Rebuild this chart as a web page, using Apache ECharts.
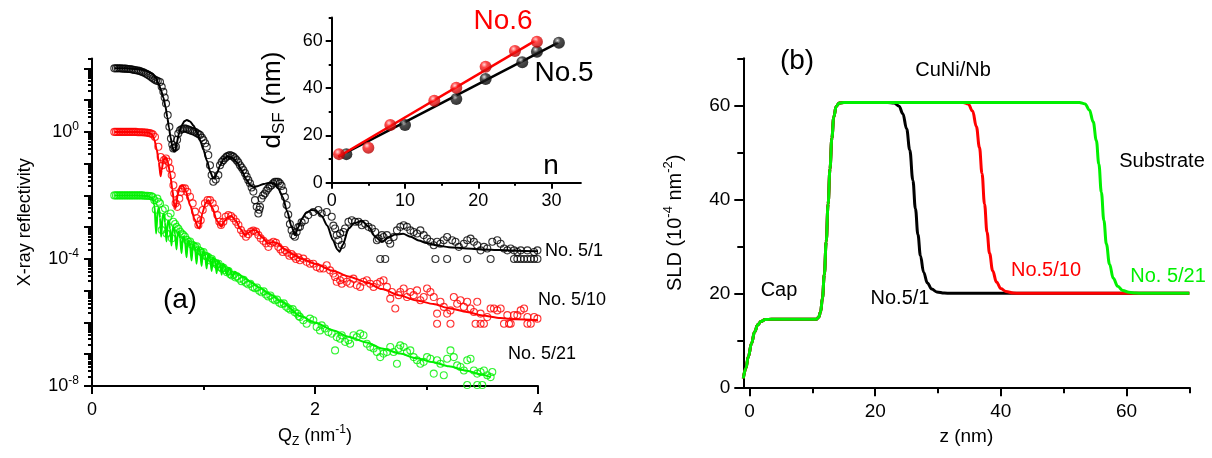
<!DOCTYPE html>
<html>
<head>
<meta charset="utf-8">
<script src="https://cdn.jsdelivr.net/npm/echarts@6/dist/echarts.min.js"></script>
<style>
html,body{margin:0;padding:0;background:#fff}
#chart{width:1212px;height:458px}
</style>
</head>
<body>
<div id="chart"></div>
<script>
// ---------- (a) X-ray reflectivity: [Qz (nm^-1), log10 R] ----------
const reflNo5_1 = [
[0.200,2.00],[0.215,2.00],[0.230,2.00],[0.245,2.00],[0.260,2.00],[0.275,1.99],[0.290,1.99],[0.305,1.99],[0.320,1.98],[0.335,1.98],
[0.350,1.97],[0.365,1.96],[0.380,1.95],[0.395,1.94],[0.410,1.93],[0.425,1.92],[0.440,1.90],[0.455,1.88],[0.470,1.86],[0.485,1.83],
[0.500,1.80],[0.515,1.77],[0.530,1.73],[0.545,1.69],[0.560,1.65],[0.575,1.62],[0.590,1.60],[0.610,1.57],[0.625,1.42],[0.640,1.26],
[0.652,1.08],[0.664,0.89],[0.679,0.53],[0.694,0.16],[0.708,-0.21],[0.720,-0.40],[0.729,-0.52],[0.741,-0.50],[0.753,-0.47],[0.763,-0.25],
[0.774,-0.05],[0.790,0.05],[0.804,0.08],[0.820,0.10],[0.834,0.11],[0.850,0.09],[0.865,0.07],[0.879,0.05],[0.895,0.03],[0.910,0.01],
[0.924,0.00],[0.940,-0.04],[0.955,-0.07],[0.969,-0.10],[0.985,-0.18],[0.999,-0.26],[1.015,-0.36],[1.029,-0.47],[1.043,-0.73],[1.058,-1.05],
[1.073,-1.36],[1.088,-1.57],[1.110,-1.50],[1.133,-1.36],[1.148,-1.05],[1.163,-0.95],[1.178,-0.89],[1.193,-0.83],[1.208,-0.78],[1.222,-0.75],
[1.237,-0.73],[1.252,-0.75],[1.267,-0.78],[1.282,-0.83],[1.297,-0.89],[1.312,-0.96],[1.327,-1.05],[1.342,-1.12],[1.357,-1.20],[1.372,-1.30],
[1.387,-1.41],[1.402,-1.52],[1.417,-1.62],[1.432,-1.75],[1.447,-1.88],[1.462,-2.15],[1.477,-2.36],[1.492,-2.57],[1.500,-2.45],[1.507,-2.36],
[1.520,-2.10],[1.535,-2.00],[1.550,-1.94],[1.565,-1.85],[1.580,-1.78],[1.595,-1.72],[1.610,-1.68],[1.625,-1.62],[1.640,-1.57],[1.655,-1.57],
[1.670,-1.57],[1.685,-1.62],[1.700,-1.70],[1.715,-1.85],[1.730,-2.05],[1.745,-2.30],[1.760,-2.60],[1.775,-2.90],[1.790,-3.10],[1.805,-3.25],
[1.820,-3.30],[1.835,-3.15],[1.850,-3.00],[1.865,-2.99],[1.880,-2.85],[1.910,-2.78],[1.940,-2.62],[1.985,-2.52],[2.030,-2.46],[2.060,-2.57],
[2.105,-2.52],[2.150,-2.67],[2.165,-2.95],[2.180,-3.04],[2.195,-3.25],[2.210,-3.41],[2.225,-3.20],[2.240,-3.56],[2.255,-3.15],[2.270,-3.04],
[2.300,-2.83],[2.330,-2.78],[2.360,-2.83],[2.390,-2.83],[2.420,-2.94],[2.450,-2.89],[2.480,-2.99],[2.510,-3.04],[2.540,-3.15],[2.555,-3.41],
[2.570,-3.36],[2.600,-3.25],[2.615,-3.31],[2.645,-3.25],[2.660,-3.41],[2.675,-3.52],[2.705,-3.31],[2.735,-3.10],[2.765,-2.99],[2.795,-2.94],
[2.825,-2.99],[2.855,-3.10],[2.885,-3.15],[2.915,-3.20],[2.945,-3.10],[2.975,-3.25],[3.005,-3.36],[3.035,-3.46],[3.065,-3.57],[3.095,-3.46],
[3.125,-3.52],[3.155,-3.41],[3.185,-3.31],[3.230,-3.41],[3.260,-3.46],[3.290,-3.62],[3.335,-3.52],[3.365,-3.41],[3.395,-3.36],[3.425,-3.46],
[3.455,-3.57],[3.485,-3.73],[3.515,-3.62],[3.545,-3.67],[3.590,-3.46],[3.635,-3.41],[3.665,-3.52],[3.695,-3.67],[3.725,-3.73],[3.755,-3.67],
[3.785,-3.73],[3.815,-3.78],[3.845,-3.73],[3.905,-3.73],[3.965,-3.78],[3.995,-3.73],
[2.585,-4.00],[2.630,-4.00],[3.080,-4.00],[3.185,-4.00],[3.365,-4.00],[3.575,-4.00],[3.785,-4.00],[3.815,-4.00],[3.845,-4.00],[3.875,-4.00],
[3.905,-4.00],[3.935,-4.00],[3.965,-4.00],[3.995,-4.00]
];
const fitNo5_1 = [
[0.20,2.00],[0.30,2.00],[0.40,1.98],[0.46,1.95],[0.50,1.91],[0.54,1.84],[0.57,1.72],[0.60,1.50],[0.62,1.30],[0.64,1.08],
[0.66,0.78],[0.675,0.47],[0.69,0.14],[0.705,-0.18],[0.72,-0.45],[0.735,-0.62],[0.745,-0.62],[0.76,-0.35],[0.78,-0.05],[0.80,0.18],
[0.83,0.34],[0.85,0.37],[0.88,0.33],[0.91,0.20],[0.94,0.00],[0.97,-0.26],[1.00,-0.57],[1.03,-0.90],[1.06,-1.25],[1.085,-1.45],
[1.10,-1.47],[1.12,-1.30],[1.15,-1.05],[1.18,-0.85],[1.22,-0.77],[1.26,-0.82],[1.30,-0.96],[1.34,-1.20],[1.38,-1.48],[1.42,-1.68],
[1.45,-1.74],[1.49,-1.70],[1.54,-1.64],[1.59,-1.60],[1.63,-1.62],[1.67,-1.78],[1.71,-2.05],[1.75,-2.50],[1.79,-2.98],[1.82,-3.25],
[1.85,-3.00],[1.88,-2.75],[1.92,-2.55],[1.97,-2.46],[2.01,-2.48],[2.06,-2.65],[2.11,-2.95],[2.16,-3.40],[2.20,-3.70],[2.22,-3.77],
[2.25,-3.55],[2.30,-3.05],[2.35,-2.88],[2.42,-2.80],[2.48,-2.98],[2.54,-3.30],[2.60,-3.47],[2.66,-3.32],[2.72,-3.23],[2.79,-3.21],
[2.86,-3.30],[2.93,-3.42],[3.00,-3.50],[3.10,-3.58],[3.20,-3.63],[3.36,-3.67],[3.50,-3.70],[3.66,-3.72],[3.80,-3.74],[4.00,-3.76]
];
const reflNo5_10 = [
[0.200,0.00],[0.215,0.00],[0.230,0.00],[0.245,0.00],[0.260,0.00],[0.275,0.00],[0.290,0.00],[0.305,0.00],[0.320,0.00],[0.335,0.00],
[0.350,0.00],[0.365,0.00],[0.380,0.00],[0.395,0.00],[0.410,-0.01],[0.425,-0.01],[0.440,-0.01],[0.455,-0.01],[0.470,-0.02],[0.485,-0.02],
[0.500,-0.03],[0.515,-0.04],[0.530,-0.05],[0.545,-0.08],[0.565,-0.16],[0.595,-0.47],[0.616,-0.79],[0.634,-1.05],[0.646,-0.89],[0.664,-0.84],
[0.685,-0.94],[0.700,-1.15],[0.715,-1.36],[0.730,-1.68],[0.738,-1.94],[0.750,-2.25],[0.765,-2.36],[0.783,-2.10],[0.795,-1.89],[0.813,-1.78],
[0.834,-1.78],[0.855,-1.89],[0.879,-2.04],[0.903,-2.25],[0.924,-2.51],[0.939,-2.72],[0.954,-2.93],[0.975,-2.78],[0.993,-2.46],[1.013,-2.25],
[1.037,-2.15],[1.058,-2.15],[1.082,-2.25],[1.103,-2.41],[1.124,-2.62],[1.142,-2.83],[1.157,-2.93],[1.178,-2.83],[1.199,-2.67],[1.223,-2.62],
[1.247,-2.65],[1.268,-2.72],[1.292,-2.83],[1.313,-2.93],[1.336,-3.09],[1.357,-3.20],[1.381,-3.30],[1.402,-3.22],[1.426,-3.14],[1.447,-3.11],
[1.471,-3.14],[1.492,-3.25],[1.513,-3.35],[1.537,-3.43],[1.561,-3.51],[1.582,-3.62],[1.603,-3.51],[1.627,-3.46],[1.650,-3.49],[1.671,-3.62],
[1.690,-3.70],[1.710,-3.78],[1.730,-3.72],[1.750,-3.80],[1.770,-3.90],[1.790,-3.85],[1.810,-3.92],[1.830,-4.00],[1.850,-3.95],[1.865,-4.04],
[1.895,-3.99],[1.925,-4.09],[1.955,-4.15],[1.985,-4.15],[2.015,-4.25],[2.045,-4.30],[2.075,-4.30],[2.105,-4.20],[2.135,-4.36],[2.165,-4.46],
[2.180,-4.57],[2.195,-4.72],[2.225,-4.67],[2.240,-4.78],[2.255,-4.62],[2.285,-4.72],[2.315,-4.78],[2.345,-4.62],[2.375,-4.83],[2.405,-4.88],
[2.435,-4.72],[2.465,-4.67],[2.495,-4.78],[2.525,-4.88],[2.555,-4.78],[2.585,-4.72],[2.615,-4.67],[2.645,-4.88],[2.675,-5.25],[2.690,-5.04],
[2.720,-5.56],[2.750,-5.14],[2.765,-5.04],[2.795,-4.93],[2.825,-5.20],[2.855,-5.04],[2.885,-5.14],[2.915,-4.99],[2.945,-5.30],[2.975,-5.20],
[3.005,-4.93],[3.035,-5.04],[3.065,-5.20],[3.095,-5.72],[3.095,-6.04],[3.125,-5.35],[3.155,-5.51],[3.185,-5.72],[3.215,-5.62],[3.215,-6.04],
[3.245,-5.20],[3.275,-5.41],[3.305,-5.30],[3.335,-5.51],[3.365,-5.35],[3.395,-5.56],[3.425,-5.67],[3.440,-6.04],[3.455,-5.35],[3.485,-5.72],
[3.485,-6.04],[3.515,-6.04],[3.545,-5.83],[3.575,-5.56],[3.605,-5.56],[3.635,-5.62],[3.665,-5.56],[3.695,-6.04],[3.725,-5.77],[3.740,-6.04],
[3.755,-6.04],[3.785,-5.77],[3.815,-5.77],[3.845,-5.62],[3.875,-5.56],[3.905,-5.83],[3.905,-6.04],[3.935,-6.04],[3.965,-5.83],[3.995,-5.88]
];
const fitNo5_10 = [
[0.20,0.00],[0.40,0.00],[0.50,-0.02],[0.54,-0.08],[0.56,-0.25],[0.58,-0.55],[0.60,-0.95],[0.615,-1.40],[0.625,-1.20],[0.64,-0.89],
[0.66,-0.80],[0.68,-0.95],[0.70,-1.30],[0.72,-1.80],[0.74,-2.35],[0.75,-2.40],[0.77,-1.95],[0.79,-1.72],[0.81,-1.68],[0.84,-1.85],
[0.88,-2.30],[0.92,-2.75],[0.95,-3.00],[0.965,-3.04],[0.99,-2.55],[1.02,-2.22],[1.045,-2.15],[1.08,-2.40],[1.12,-2.80],[1.16,-2.99],
[1.19,-2.80],[1.22,-2.68],[1.25,-2.65],[1.29,-2.80],[1.33,-3.05],[1.37,-3.25],[1.40,-3.18],[1.44,-3.09],[1.47,-3.10],[1.52,-3.30],
[1.58,-3.51],[1.62,-3.47],[1.66,-3.50],[1.72,-3.68],[1.80,-3.85],[1.87,-3.99],[2.00,-4.15],[2.165,-4.38],[2.30,-4.55],[2.464,-4.74],
[2.60,-4.95],[2.764,-5.15],[2.90,-5.30],[3.063,-5.42],[3.20,-5.55],[3.363,-5.67],[3.50,-5.78],[3.662,-5.86],[3.80,-5.90],[4.00,-5.93]
];
const reflNo5_21 = [
[0.200,-2.00],[0.215,-2.00],[0.230,-2.00],[0.245,-2.00],[0.260,-2.00],[0.275,-2.00],[0.290,-2.00],[0.305,-2.00],[0.320,-2.00],[0.335,-2.00],
[0.350,-2.00],[0.365,-2.00],[0.380,-2.00],[0.395,-2.00],[0.410,-2.00],[0.425,-2.00],[0.440,-2.00],[0.455,-2.00],[0.470,-2.01],[0.485,-2.01],
[0.500,-2.01],[0.515,-2.02],[0.530,-2.02],[0.545,-2.05],[0.560,-2.15],[0.572,-2.45],[0.586,-2.10],[0.598,-2.20],[0.610,-2.25],[0.625,-3.09],
[0.634,-2.46],[0.655,-2.41],[0.668,-3.20],[0.685,-2.67],[0.705,-2.57],[0.716,-3.35],[0.729,-2.83],[0.745,-2.90],[0.759,-2.99],[0.775,-3.05],
[0.789,-3.14],[0.805,-3.20],[0.820,-3.25],[0.834,-3.30],[0.850,-3.40],[0.864,-3.46],[0.880,-3.45],[0.895,-3.55],[0.910,-3.58],[0.925,-3.62],
[0.940,-3.60],[0.955,-3.72],[0.970,-3.75],[0.985,-3.80],[1.000,-3.78],[1.015,-3.90],[1.030,-3.92],[1.045,-3.95],[1.060,-4.05],[1.075,-4.00],
[1.090,-4.10],[1.105,-4.12],[1.120,-4.18],[1.135,-4.15],[1.150,-4.25],[1.165,-4.30],[1.180,-4.28],[1.195,-4.35],[1.210,-4.42],[1.225,-4.38],
[1.240,-4.48],[1.255,-4.52],[1.270,-4.50],[1.285,-4.58],[1.300,-4.55],[1.320,-4.62],[1.340,-4.70],[1.360,-4.66],[1.380,-4.75],[1.400,-4.80],
[1.420,-4.78],[1.440,-4.88],[1.460,-4.92],[1.480,-4.90],[1.500,-5.00],[1.520,-5.05],[1.540,-5.02],[1.560,-5.12],[1.580,-5.18],[1.600,-5.15],
[1.620,-5.25],[1.640,-5.30],[1.660,-5.28],[1.680,-5.38],[1.700,-5.42],[1.720,-5.40],[1.740,-5.50],[1.760,-5.55],[1.780,-5.60],[1.800,-5.58],
[1.820,-5.68],[1.840,-5.72],[1.855,-5.80],[1.865,-5.83],[1.895,-5.93],[1.925,-6.04],[1.955,-5.88],[1.985,-5.93],[2.015,-6.14],[2.045,-6.25],
[2.060,-6.09],[2.090,-6.19],[2.120,-6.30],[2.150,-6.35],[2.180,-6.88],[2.195,-6.46],[2.225,-6.51],[2.240,-6.40],[2.270,-6.61],[2.300,-6.56],
[2.315,-6.67],[2.345,-6.40],[2.375,-6.46],[2.405,-6.35],[2.435,-6.40],[2.465,-6.67],[2.495,-6.77],[2.525,-6.82],[2.555,-6.93],[2.585,-7.09],
[2.615,-6.98],[2.645,-6.93],[2.675,-6.77],[2.705,-6.93],[2.735,-7.30],[2.750,-6.82],[2.765,-6.72],[2.795,-6.77],[2.825,-6.93],[2.855,-6.88],
[2.885,-7.09],[2.915,-7.19],[2.945,-7.30],[2.975,-7.24],[3.005,-7.09],[3.035,-7.14],[3.065,-7.61],[3.095,-7.19],[3.125,-7.30],[3.155,-7.66],
[3.185,-7.14],[3.215,-6.88],[3.245,-7.09],[3.275,-7.35],[3.305,-7.40],[3.335,-7.51],[3.365,-7.19],[3.395,-7.14],[3.425,-7.51],[3.455,-7.61],
[3.485,-7.56],[3.515,-7.51],[3.545,-7.66],[3.575,-7.72],[3.590,-7.56],[3.365,-7.97],[3.455,-7.97],[3.500,-7.97]
];
const fitNo5_21 = [
[0.20,-2.00],[0.40,-2.00],[0.50,-2.02],[0.54,-2.08],[0.56,-2.30],[0.575,-3.20],[0.59,-2.45],[0.60,-2.40],[0.61,-2.70],[0.62,-3.30],
[0.635,-2.60],[0.645,-2.58],[0.655,-2.85],[0.668,-3.45],[0.68,-2.80],[0.69,-2.80],[0.70,-3.05],[0.713,-3.58],[0.725,-3.00],[0.735,-3.00],
[0.745,-3.22],[0.758,-3.70],[0.77,-3.15],[0.78,-3.15],[0.79,-3.35],[0.803,-3.82],[0.815,-3.30],[0.825,-3.30],[0.835,-3.48],[0.848,-3.95],
[0.86,-3.42],[0.87,-3.42],[0.88,-3.60],[0.893,-4.05],[0.905,-3.55],[0.915,-3.55],[0.925,-3.70],[0.938,-4.15],[0.95,-3.65],[0.96,-3.66],
[0.97,-3.80],[0.983,-4.22],[0.995,-3.75],[1.005,-3.77],[1.015,-3.90],[1.028,-4.30],[1.04,-3.85],[1.05,-3.87],[1.06,-4.00],[1.073,-4.38],
[1.085,-3.95],[1.095,-3.97],[1.105,-4.08],[1.118,-4.45],[1.13,-4.05],[1.14,-4.08],[1.15,-4.18],[1.163,-4.50],[1.175,-4.15],[1.19,-4.20],
[1.21,-4.50],[1.225,-4.28],[1.24,-4.32],[1.26,-4.55],[1.28,-4.40],[1.30,-4.45],[1.35,-4.55],[1.42,-4.72],[1.50,-4.90],[1.60,-5.12],
[1.70,-5.35],[1.87,-5.80],[2.00,-6.00],[2.165,-6.25],[2.30,-6.45],[2.464,-6.63],[2.60,-6.82],[2.764,-6.98],[2.90,-7.12],[3.063,-7.25],
[3.20,-7.38],[3.363,-7.52],[3.48,-7.63],[3.575,-7.72]
];

// ---------- inset: superlattice thickness d_SF vs number of bilayers n ----------
const nNo5 = [2, 10, 17, 21, 26, 28, 31];
const dNo5 = [12.1, 24.4, 35.4, 43.9, 51.0, 55.5, 59.3];
const nNo6 = [1, 5, 8, 14, 17, 21, 25, 28];
const dNo6 = [12.1, 14.8, 24.4, 34.7, 40.2, 49.1, 55.8, 59.7];
const lineNo5 = [[0.9, 11.0], [30.9, 59.3]];
const lineNo6 = [[0.9, 11.0], [27.9, 60.4]];

// ---------- (b) SLD depth profiles: [z (nm), SLD (1e-4 nm^-2)] ----------
const sldNo5_1 = [
[-1,1.9],[-0.6,4],[-0.2,6.5],[0.3,9.3],[0.8,11.8],[1.3,13.3],[1.8,14.0],[2.5,14.4],[3.5,14.5],[10.6,14.5],
[11,14.9],[11.3,16],[11.6,19],[11.9,24],[12.2,31],[12.5,39],[12.8,46.5],[13.1,53],[13.4,57.5],[13.8,59.8],
[14.3,60.5],[15,60.6],[22,60.6],[23,60.5],[23.8,59.8],[24.4,58.2],[25,55],[25.5,50.5],[26,44],[26.4,38],
[26.8,32.5],[27.2,28],[27.7,24.5],[28.3,22.2],[29,20.9],[29.8,20.3],[31,20.05],[32,20],[70,20]
];
const sldNo5_10 = [
[-1,1.9],[-0.6,4],[-0.2,6.5],[0.3,9.3],[0.8,11.8],[1.3,13.3],[1.8,14.0],[2.5,14.4],[3.5,14.5],[10.6,14.5],
[11,14.9],[11.3,16],[11.6,19],[11.9,24],[12.2,31],[12.5,39],[12.8,46.5],[13.1,53],[13.4,57.5],[13.8,59.8],
[14.3,60.5],[15,60.6],[34,60.6],[34.8,60.3],[35.5,58.8],[36.1,55.5],[36.6,51],[37,45.5],[37.4,39],[37.8,33],
[38.2,28.5],[38.7,24.8],[39.3,22.4],[40,21],[40.8,20.4],[42,20.05],[43,20],[70,20]
];
const sldNo5_21 = [
[-1,1.9],[-0.6,4],[-0.2,6.5],[0.3,9.3],[0.8,11.8],[1.3,13.3],[1.8,14.0],[2.5,14.4],[3.5,14.5],[10.6,14.5],
[11,14.9],[11.3,16],[11.6,19],[11.9,24],[12.2,31],[12.5,39],[12.8,46.5],[13.1,53],[13.4,57.5],[13.8,59.8],
[14.3,60.5],[15,60.6],[52.5,60.6],[53.4,60.3],[54.1,59],[54.7,56.5],[55.2,52.5],[55.6,47.5],[56,41.5],[56.4,35.5],
[56.8,30.5],[57.3,26.2],[57.9,23.2],[58.6,21.5],[59.4,20.6],[60.4,20.2],[61.5,20.05],[62.5,20],[70,20]
];

// ---------- tick positions and labels ----------
const qTicks = [0, 2, 4], qMinor = [1, 3];
const decadeTicks = [-8, -7, -6, -5, -4, -3, -2, -1, 0, 1, 2];
const decadeLabels = [-8, -4, 0];
const nTicks = [0, 10, 20, 30], nMinor = [5, 15, 25];
const dTicks = [0, 20, 40, 60], dMinor = [10, 30, 50, 70];
const zTicks = [0, 20, 40, 60], zMinor = [10, 30, 50, 70];
const sldTicks = [0, 20, 40, 60], sldMinor = [10, 30, 50, 70];

// log-spaced minor ticks (2..9 within each decade)
const decadeMinor = [];
for (let e = -8; e <= 2; e++) {
  for (let k = 2; k <= 9; k++) {
    const v = e + Math.log10(k);
    if (v <= 2.31) decadeMinor.push(v);
  }
}

const FONT = '"Liberation Sans", Arial, Helvetica, sans-serif';
const BLACK = '#000000', RED = '#ff0000', GREEN = '#00f000';

function axis(o) {
  return {
    type: 'value', gridIndex: o.grid, position: o.pos, min: o.min, max: o.max,
    axisLine: { show: !o.minor, onZero: false, lineStyle: { color: BLACK, width: 2 } },
    axisTick: { show: true, inside: false, length: o.tickLen, customValues: o.ticks,
                lineStyle: { color: BLACK, width: 2 } },
    axisLabel: o.labels ? {
      show: true, customValues: o.labels, margin: o.margin, color: BLACK,
      fontFamily: FONT, fontSize: o.fs, formatter: o.fmt, rich: o.rich
    } : { show: false },
    splitLine: { show: false },
    name: o.name || '', nameLocation: 'middle', nameGap: o.nameGap,
    nameTextStyle: o.nameStyle
  };
}

const supRich = {
  sup: { fontSize: 12, fontFamily: FONT, color: BLACK, verticalAlign: 'top', lineHeight: 12 },
  sub: { fontSize: 12, fontFamily: FONT, color: BLACK, verticalAlign: 'bottom', lineHeight: 12 }
};

const xAxes = [
  axis({ grid: 0, pos: 'bottom', min: 0, max: 4, tickLen: 8, ticks: qTicks, labels: qTicks, margin: 15, fs: 18,
         name: 'Q{sub|Z} (nm{sup|-1})', nameGap: 34,
         nameStyle: { color: BLACK, fontFamily: FONT, fontSize: 18, lineHeight: 24, rich: supRich } }),
  axis({ grid: 0, pos: 'bottom', min: 0, max: 4, tickLen: 4, ticks: qMinor, minor: true }),
  axis({ grid: 1, pos: 'bottom', min: 0, max: 34, tickLen: 6, ticks: nTicks, labels: nTicks, margin: 9, fs: 18 }),
  axis({ grid: 1, pos: 'bottom', min: 0, max: 34, tickLen: 3, ticks: nMinor, minor: true }),
  axis({ grid: 2, pos: 'bottom', min: -1, max: 70, tickLen: 9, ticks: zTicks, labels: zTicks, margin: 15, fs: 19,
         name: 'z (nm)', nameGap: 40, nameStyle: { color: BLACK, fontFamily: FONT, fontSize: 19 } }),
  axis({ grid: 2, pos: 'bottom', min: -1, max: 70, tickLen: 6, ticks: zMinor, minor: true })
];

const yAxes = [
  axis({ grid: 0, pos: 'left', min: -8, max: 2.31, tickLen: 8, ticks: decadeTicks, labels: decadeLabels, margin: 13, fs: 18,
         fmt: v => '{b|10}{s|' + v + '}',
         rich: { b: { fontSize: 18, fontFamily: FONT, color: BLACK, lineHeight: 22 },
                 s: { fontSize: 12, fontFamily: FONT, color: BLACK, verticalAlign: 'top', lineHeight: 12 } },
         name: 'X-ray reflectivity', nameGap: 58,
         nameStyle: { color: BLACK, fontFamily: FONT, fontSize: 18 } }),
  axis({ grid: 0, pos: 'left', min: -8, max: 2.31, tickLen: 4, ticks: decadeMinor, minor: true }),
  axis({ grid: 1, pos: 'left', min: 0, max: 70, tickLen: 6, ticks: dTicks, labels: dTicks, margin: 9, fs: 18,
         name: 'd{sub|SF} (nm)', nameGap: 44,
         nameStyle: { color: BLACK, fontFamily: FONT, fontSize: 26, lineHeight: 30,
                      rich: { sub: { fontSize: 17, fontFamily: FONT, color: BLACK, verticalAlign: 'bottom', lineHeight: 17 } } } }),
  axis({ grid: 1, pos: 'left', min: 0, max: 70, tickLen: 3, ticks: dMinor, minor: true }),
  axis({ grid: 2, pos: 'left', min: 0, max: 70, tickLen: 9, ticks: sldTicks, labels: sldTicks, margin: 13, fs: 19,
         name: 'SLD (10{sup|-4} nm{sup|-2})', nameGap: 55,
         nameStyle: { color: BLACK, fontFamily: FONT, fontSize: 20, lineHeight: 26,
                      rich: { sup: { fontSize: 13, fontFamily: FONT, color: BLACK, verticalAlign: 'top', lineHeight: 13 } } } }),
  axis({ grid: 2, pos: 'left', min: 0, max: 70, tickLen: 6, ticks: sldMinor, minor: true })
];

function dataScatter(data, color) {
  return { type: 'scatter', xAxisIndex: 0, yAxisIndex: 0, data: data, symbol: 'circle', symbolSize: 7,
           itemStyle: { color: 'rgba(255,255,255,0)', borderColor: color, borderWidth: 1.1 }, silent: true, z: 2 };
}
function fitLine(data, color, xi, yi, width, smooth) {
  return { type: 'line', xAxisIndex: xi, yAxisIndex: yi, data: data, showSymbol: false, smooth: smooth,
           smoothMonotone: 'x', lineStyle: { color: color, width: width }, silent: true, z: 3 };
}
function ball(base, light, dark) {
  return { type: 'radial', x: 0.38, y: 0.32, r: 0.7,
           colorStops: [{ offset: 0, color: light }, { offset: 0.35, color: base }, { offset: 1, color: dark }] };
}
function pairs(xs, ys) { return xs.map((x, i) => [x, ys[i]]); }

const series = [
  dataScatter(reflNo5_1, BLACK), fitLine(fitNo5_1, BLACK, 0, 0, 2, 0.25),
  dataScatter(reflNo5_10, RED), fitLine(fitNo5_10, RED, 0, 0, 2, 0.25),
  dataScatter(reflNo5_21, GREEN), fitLine(fitNo5_21, GREEN, 0, 0, 2, 0.25),

  { type: 'line', xAxisIndex: 2, yAxisIndex: 2, data: lineNo5, showSymbol: false,
    lineStyle: { color: BLACK, width: 2.5 }, silent: true, z: 4 },
  { type: 'scatter', xAxisIndex: 2, yAxisIndex: 2, data: pairs(nNo5, dNo5), symbolSize: 12,
    itemStyle: { color: ball('#222222', '#d8d8d8', '#000000') }, silent: true, z: 5 },
  { type: 'line', xAxisIndex: 2, yAxisIndex: 2, data: lineNo6, showSymbol: false,
    lineStyle: { color: RED, width: 2.5 }, silent: true, z: 6 },
  { type: 'scatter', xAxisIndex: 2, yAxisIndex: 2, data: pairs(nNo6, dNo6), symbolSize: 12,
    itemStyle: { color: ball('#ff1a1a', '#ffd0d0', '#b00000') }, silent: true, z: 7 },

  fitLine(sldNo5_1, BLACK, 4, 4, 3, 0.4),
  fitLine(sldNo5_10, RED, 4, 4, 3, 0.4),
  fitLine(sldNo5_21, GREEN, 4, 4, 3, 0.4)
];

function label(text, x, y, size, color, align) {
  return { type: 'text', x: x, y: y, silent: true, z: 100,
           style: { text: text, fill: color || BLACK, fontFamily: FONT, fontSize: size,
                    align: align || 'center', verticalAlign: 'middle',
                    textAlign: align || 'center', textVerticalAlign: 'middle' } };
}

const graphics = [
  label('(a)', 180, 300, 28),
  label('No. 5/1', 545, 251, 18, BLACK, 'left'),
  label('No. 5/10', 538, 300, 18, BLACK, 'left'),
  label('No. 5/21', 508, 354, 18, BLACK, 'left'),
  label('No.6', 503, 21, 28, RED),
  label('No.5', 564, 73, 28, BLACK),
  label('n', 551, 166, 28, BLACK),
  label('(b)', 797, 61, 28),
  label('CuNi/Nb', 953, 70, 20),
  label('Substrate', 1162, 161, 20),
  label('Cap', 779, 290, 20),
  label('No.5/1', 900, 298, 20),
  label('No.5/10', 1046, 270, 20, RED),
  label('No. 5/21', 1168, 276, 20, GREEN)
];

const chart = echarts.init(document.getElementById('chart'), null, { renderer: 'canvas' });
chart.setOption({
  animation: false,
  backgroundColor: '#ffffff',
  textStyle: { fontFamily: FONT },
  grid: [
    { left: 92, top: 58.5, width: 446, height: 327.5, outerBoundsMode: 'none' },
    { left: 331.7, top: 17.4, width: 249.2, height: 165.3, outerBoundsMode: 'none' },
    { left: 743.3, top: 58.3, width: 446, height: 329, outerBoundsMode: 'none' }
  ],
  xAxis: xAxes,
  yAxis: yAxes,
  series: series,
  graphic: graphics
});
</script>
</body>
</html>
